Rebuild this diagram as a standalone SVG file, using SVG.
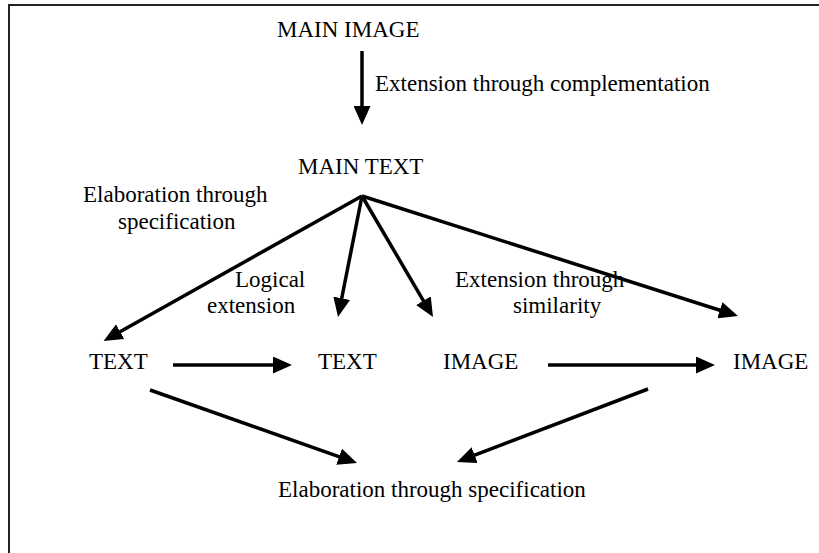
<svg xmlns="http://www.w3.org/2000/svg" width="819" height="553" viewBox="0 0 819 553">
  <style>
    .lbl { font-family: "Liberation Serif", "Times New Roman", serif; font-size: 23px; fill: #000; }
    .edge { stroke: #000; stroke-width: 3.5; fill: none; marker-end: url(#head); }
    .frame { stroke: #222; stroke-width: 2; fill: none; }
  </style>
  <defs>
    <marker id="head" markerUnits="userSpaceOnUse" markerWidth="19" markerHeight="17" refX="14" refY="8.5" orient="auto">
      <path d="M0,0 L19,8.5 L0,17 z" fill="#000"/>
    </marker>
  </defs>
  <rect width="819" height="553" fill="#fff"/>
  <!-- outer frame (open to right and bottom) -->
  <path class="frame" d="M9,553 V5 H819"/>

  <g id="main-image"><text class="lbl" x="277" y="37">MAIN IMAGE</text></g>
  <g id="main-text"><text class="lbl" x="298" y="174">MAIN TEXT</text></g>
  <g id="text-left"><text class="lbl" x="89" y="369">TEXT</text></g>
  <g id="text-mid"><text class="lbl" x="318" y="369">TEXT</text></g>
  <g id="image-mid"><text class="lbl" x="443" y="369">IMAGE</text></g>
  <g id="image-right"><text class="lbl" x="733" y="369">IMAGE</text></g>
  <g id="elab-bottom"><text class="lbl" x="278" y="497">Elaboration through specification</text></g>

  <g id="connectors">
    <line class="edge" x1="362" y1="51" x2="362" y2="120"/>
    <line class="edge" x1="362" y1="196" x2="108" y2="338.5"/>
    <line class="edge" x1="362" y1="196" x2="339" y2="312"/>
    <line class="edge" x1="362" y1="196" x2="430.5" y2="312.8"/>
    <line class="edge" x1="362" y1="196" x2="733.2" y2="314.5"/>
    <line class="edge" x1="173" y1="365" x2="287" y2="365"/>
    <line class="edge" x1="548" y1="365" x2="710" y2="365"/>
    <line class="edge" x1="150" y1="390" x2="352.3" y2="461.3"/>
    <line class="edge" x1="648" y1="389" x2="461.6" y2="460.2"/>
  </g>

  <g id="edge-labels">
    <text class="lbl" x="375" y="91">Extension through complementation</text>
    <text class="lbl" x="83" y="202">Elaboration through</text>
    <text class="lbl" x="118" y="229">specification</text>
    <text class="lbl" x="235" y="287">Logical</text>
    <text class="lbl" x="207" y="313">extension</text>
    <text class="lbl" x="455" y="287">Extension through</text>
    <text class="lbl" x="513" y="313">similarity</text>
  </g>
</svg>
